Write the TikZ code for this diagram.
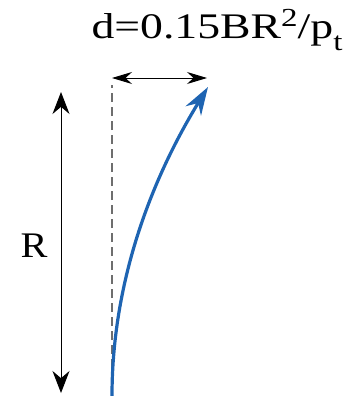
\documentclass[tikz,border=0pt]{standalone}
\usepackage{fontspec}
\setmainfont{Liberation Serif}
\usetikzlibrary{arrows.meta,positioning}
\definecolor{curveblue}{RGB}{30,100,178}
\definecolor{guidegray}{RGB}{110,110,110}
\newcommand{\upidx}[1]{\raisebox{13pt}{\fontsize{26}{30}\selectfont #1}}
\newcommand{\downidx}[1]{\raisebox{-12pt}{\fontsize{26}{30}\selectfont #1}}

\begin{document}
\begin{tikzpicture}[x=1pt,y=-1pt,
   dimline/.style={line width=1pt,{Stealth[length=20pt,width=12pt]}-{Stealth[length=20pt,width=12pt]}},
   bigdim/.style={line width=1pt,{Stealth[length=22pt,width=17pt]}-{Stealth[length=22pt,width=17pt]}},
   guide/.style={guidegray,dash pattern=on 9pt off 5pt,line width=1.5pt},
   track/.style={curveblue,line width=3.2pt,-{Stealth[length=28pt,width=18pt]}}]
   \useasboundingbox (0,0) rectangle (353,396);
   % reference line and deflected track
   \coordinate (start) at (112,396);
   \coordinate (tip)   at (208,87);
   \coordinate (top)   at (112,85);
   \draw[guide] (start) -- (top);
   \draw[track] (start) .. controls (112,290) and (146,188) .. (tip);
   % dimensions
   \coordinate (dl) at (112,78);
   \coordinate (dr) at (207,78);
   \draw[dimline] (dl) -- (dr);
   \coordinate (rt) at (61,92);
   \coordinate (rb) at (61,393);
   \draw[bigdim] (rt) -- (rb);
   \node[anchor=base,inner sep=0pt] (dlabel) at (217,39)
      {\scalebox{1.27}[1]{\fontsize{36}{40}\selectfont d=0.15BR\upidx{2}/p\downidx{t}}};
   \node[anchor=base,inner sep=0pt] (rlabel) at (34,257)
      {\scalebox{1.12}[1]{\fontsize{36}{40}\selectfont R}};
\end{tikzpicture}
\end{document}
